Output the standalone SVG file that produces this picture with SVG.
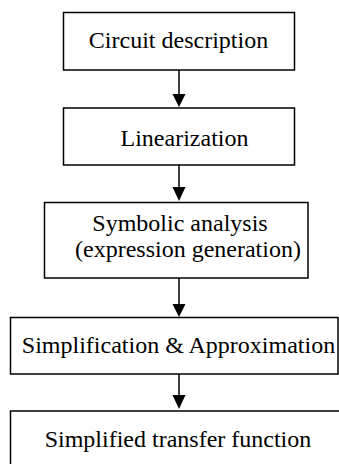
<svg xmlns="http://www.w3.org/2000/svg" width="339" height="464" viewBox="0 0 339 464">
<style>
.box{fill:#fff;stroke:#000;stroke-width:1.5}
.t{font-size:24px;fill:#000;text-anchor:middle}
.c{stroke:#000;stroke-width:1.5;fill:none}
.h{fill:#000}
</style>
<rect width="339" height="464" fill="#fff"/>
<g id="connectors">
<line class="c" x1="179" y1="70" x2="179" y2="95"/>
<polygon class="h" points="172.5,94 185.5,94 179,107"/>
<line class="c" x1="179" y1="165" x2="179" y2="188"/>
<polygon class="h" points="172.5,187 185.5,187 179,201"/>
<line class="c" x1="179" y1="278" x2="179" y2="305"/>
<polygon class="h" points="172.5,304 185.5,304 179,317"/>
<line class="c" x1="179" y1="374" x2="179" y2="396"/>
<polygon class="h" points="172.5,395 185.5,395 179,409"/>
</g>
<g font-family="Liberation Serif, Tinos, Times New Roman, DejaVu Serif, serif">
<g id="n1"><rect class="box" x="63.5" y="12.5" width="231" height="57.5"/><text class="t" x="178.5" y="48">Circuit description</text></g>
<g id="n2"><rect class="box" x="63.5" y="108" width="231" height="57"/><text class="t" x="184.5" y="145.5">Linearization</text></g>
<g id="n3"><rect class="box" x="44.5" y="202.5" width="263.5" height="75.5"/><text class="t" x="180" y="231">Symbolic analysis</text><text class="t" x="188" y="256.5">(expression generation)</text></g>
<g id="n4"><rect class="box" x="10.5" y="317.5" width="327.5" height="56.5"/><text class="t" x="178.5" y="353">Simplification &amp; Approximation</text></g>
<g id="n5"><rect class="box" x="10.5" y="411" width="340" height="70"/><text class="t" x="178" y="446.5">Simplified transfer function</text></g>
</g>
</svg>
